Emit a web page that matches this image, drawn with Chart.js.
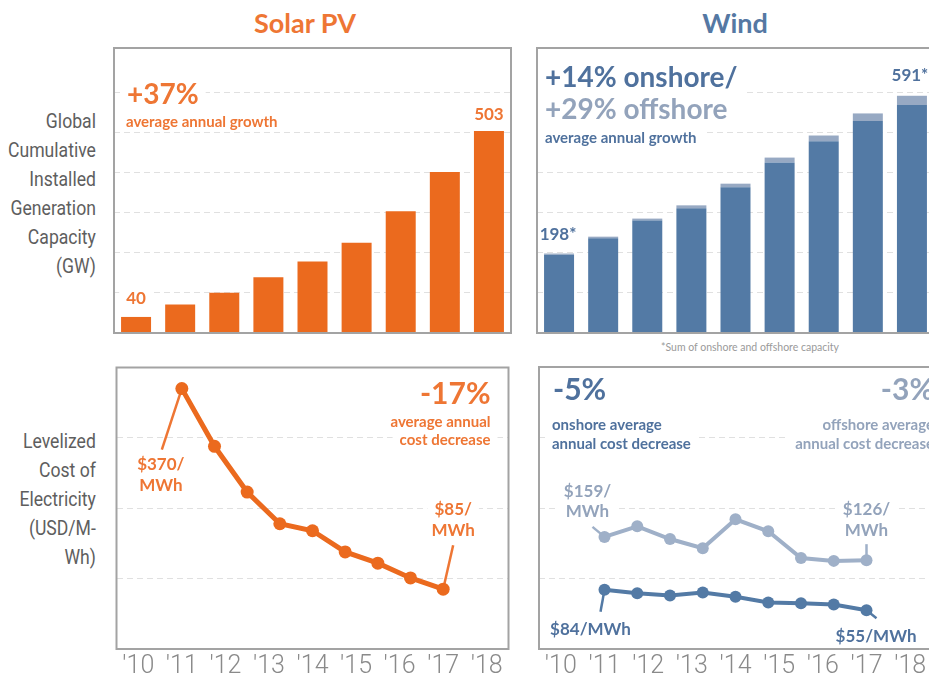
<!DOCTYPE html>
<html><head><meta charset="utf-8">
<script src="https://cdn.jsdelivr.net/npm/chart.js@4.4.1/dist/chart.umd.min.js"></script>
<style>
html,body{margin:0;padding:0;background:#fff;width:929px;height:686px;overflow:hidden;position:relative;}
.box{position:absolute;}
.title{position:absolute;font-family:Lato,'Open Sans',sans-serif;font-weight:bold;font-size:27px;transform:translateX(-50%);top:6px;white-space:nowrap;}
.side{position:absolute;right:833px;text-align:right;font-family:Roboto,'DejaVu Sans Condensed',sans-serif;font-size:20px;line-height:29px;color:#5e5e5e;white-space:nowrap;transform:scaleX(0.88);transform-origin:right top;}
.foot{position:absolute;left:750px;top:341px;transform:translateX(-50%);font-family:Lato,'Open Sans',sans-serif;font-size:10.5px;color:#9a9a9a;white-space:nowrap;}
</style></head>
<body>
<div class="title" style="left:305px;color:#EE7634">Solar PV</div>
<div class="title" style="left:735px;color:#5578A3">Wind</div>
<div class="side" style="top:107px">Global<br>Cumulative<br>Installed<br>Generation<br>Capacity<br>(GW)</div>
<div class="side" style="top:427px">Levelized<br>Cost of<br>Electricity<br>(USD/M-<br>Wh)</div>
<div class="foot">*Sum of onshore and offshore capacity</div>
<script>
// ---- data ----
const years = ["'10","'11","'12","'13","'14","'15","'16","'17","'18"];
const solarCapacity = [40, 71, 100, 139, 178, 225, 303, 401, 503];
const windOnshore = [195, 236, 280, 311, 363, 425, 478, 528, 568];
const windOffshore = [3, 4, 5, 7, 9, 12, 14, 19, 23];
const lcoeX = [1, 1.75, 2.5, 3.25, 4, 4.75, 5.5, 6.25, 7];
const solarLcoe = [370, 288, 223, 178, 168, 138, 122, 101, 85];
const windOffshoreLcoe = [159, 174, 156, 143, 184, 167, 129, 125, 126];
const windOnshoreLcoe = [84, 79, 76, 80, 74, 66, 65, 63, 55];
const capGrid = [100, 200, 300, 400, 500, 600];
const lcoeGrid = [100, 200, 300];

// ---- styles ----
const ORANGE = '#EB6A1E', ORANGE_TXT = '#EE7634';
const BLUE = '#537AA5', BLUE_TXT = '#4F719D';
const LIGHT = '#97A9C3', LIGHT_TXT = '#93A3BB';
const FONT = "Lato, 'Open Sans', sans-serif";

function mk(left, top, w, h) {
  const d = document.createElement('div');
  d.className = 'box';
  d.style.left = left + 'px'; d.style.top = top + 'px';
  d.style.width = w + 'px'; d.style.height = h + 'px';
  const c = document.createElement('canvas');
  d.appendChild(c); document.body.appendChild(d);
  return c;
}

const A = (dx, dy) => c => [c.chartArea.left + dx, c.chartArea.top + dy];
const R = (dx, dy) => c => [c.chartArea.right + dx, c.chartArea.top + dy];
const P = (ds, i, dx, dy) => c => { const e = c.getDatasetMeta(ds).data[i]; return [e.x + dx, e.y + dy]; };
const T = (text, at, size, color, align = 'left', bg = true) => ({text, at, size, color, align, bg});
const L = (from, to, color, width = 2.5) => ({from, to, color, width});

const annot = {
  id: 'annot',
  beforeDatasetsDraw(chart, a, o) {
    const ctx = chart.ctx; ctx.save();
    (o.items || []).forEach(it => {
      if (!it.bg) return;
      const [x, y] = it.at(chart);
      ctx.font = `bold ${it.size}px ${FONT}`;
      const w = ctx.measureText(it.text).width;
      const x0 = it.align === 'right' ? x - w : it.align === 'center' ? x - w / 2 : x;
      ctx.fillStyle = '#fff';
      ctx.fillRect(x0 - 7, y - it.size * 0.65, w + 14, it.size * 1.3);
    });
    (o.lines || []).forEach(l => {
      const [x1, y1] = l.from(chart), [x2, y2] = l.to(chart);
      ctx.strokeStyle = l.color; ctx.lineWidth = l.width;
      ctx.beginPath(); ctx.moveTo(x1, y1); ctx.lineTo(x2, y2); ctx.stroke();
    });
    ctx.restore();
  },
  afterDatasetsDraw(chart, a, o) {
    const ctx = chart.ctx; ctx.save();
    ctx.textBaseline = 'middle';
    (o.items || []).forEach(it => {
      const [x, y] = it.at(chart);
      ctx.font = `bold ${it.size}px ${FONT}`;
      ctx.textAlign = it.align;
      ctx.fillStyle = it.color;
      ctx.fillText(it.text, x, y);
    });
    ctx.restore();
  },
  afterDraw(chart) {
    const ctx = chart.ctx, ca = chart.chartArea;
    ctx.save();
    ctx.strokeStyle = '#a3a3a3'; ctx.lineWidth = 2;
    ctx.strokeRect(ca.left, ca.top, ca.right - ca.left, ca.bottom - ca.top);
    ctx.restore();
  }
};

function yScale(max, grid, stacked) {
  return {
    min: 0, max, stacked: !!stacked,
    afterBuildTicks: s => { s.ticks = grid.map(v => ({value: v})); },
    ticks: {display: false},
    grid: {color: '#e0e0e0', lineWidth: 1, drawTicks: false},
    border: {display: false, dash: [6, 4]}
  };
}
function xLine() {
  return {
    type: 'linear', min: -0.5, max: 8.5,
    afterBuildTicks: s => { s.ticks = years.map((_, i) => ({value: i})); },
    ticks: {
      callback: v => years[v], autoSkip: false, maxRotation: 0, padding: 3,
      color: '#8a8a8a', font: {family: "Roboto, 'DejaVu Sans Condensed', sans-serif", size: 25, weight: '300'}
    },
    grid: {display: false, drawTicks: false},
    border: {display: false}
  };
}
const base = {
  responsive: true, maintainAspectRatio: false, animation: false, devicePixelRatio: 1,
  layout: {padding: {left: 4, right: 4, top: 4, bottom: 4}},
};
const noUI = {legend: {display: false}, tooltip: {enabled: false}};

// Solar capacity
new Chart(mk(110, 44, 405, 293), {
  type: 'bar',
  data: {labels: years, datasets: [{data: solarCapacity, backgroundColor: ORANGE, barPercentage: 1, categoryPercentage: 0.68}]},
  options: {...base,
    scales: {x: {display: false, offset: true}, y: yScale(710, capGrid)},
    plugins: {...noUI, annot: {items: [
      T('+37%', A(13, 47), 28, ORANGE_TXT),
      T('average annual growth', A(12, 74), 15, ORANGE_TXT),
      T('503', P(0, 8, 0, -17), 17, ORANGE_TXT, 'center'),
      T('40', P(0, 0, 0, -18), 17, ORANGE_TXT, 'center')
    ]}}
  },
  plugins: [annot]
});

// Wind capacity
new Chart(mk(533, 44, 405, 293), {
  type: 'bar',
  data: {labels: years, datasets: [
    {data: windOnshore, backgroundColor: BLUE, barPercentage: 1, categoryPercentage: 0.68},
    {data: windOffshore, backgroundColor: LIGHT, barPercentage: 1, categoryPercentage: 0.68}
  ]},
  options: {...base,
    scales: {x: {display: false, offset: true, stacked: true}, y: yScale(710, capGrid, true)},
    plugins: {...noUI, annot: {items: [
      T('+14% onshore/', A(8, 30), 28, BLUE_TXT),
      T('+29% offshore', A(8, 62), 28, LIGHT_TXT),
      T('average annual growth', A(8, 90), 15, BLUE_TXT),
      T('198*', P(1, 0, -1, -19), 17, BLUE_TXT, 'center'),
      T('591*', P(1, 8, -2, -20), 17, BLUE_TXT, 'center')
    ]}}
  },
  plugins: [annot]
});

// Solar LCOE
new Chart(mk(110, 361, 405, 324), {
  type: 'line',
  data: {datasets: [{
    data: lcoeX.map((x, i) => ({x, y: solarLcoe[i]})),
    borderColor: ORANGE, backgroundColor: ORANGE, borderWidth: 5,
    pointRadius: 6.5, pointBorderWidth: 0, pointBackgroundColor: ORANGE, tension: 0
  }]},
  options: {...base, layout: {padding: {left: 4, right: 4, top: 4, bottom: 0}},
    scales: {x: xLine(), y: yScale(400, lcoeGrid)},
    plugins: {...noUI, annot: {
      items: [
        T('-17%', R(-18, 27), 30, ORANGE_TXT, 'right'),
        T('average annual', R(-18, 55), 15, ORANGE_TXT, 'right'),
        T('cost decrease', R(-18, 73), 15, ORANGE_TXT, 'right'),
        T('$370/', P(0, 0, -21, 76), 17, ORANGE_TXT, 'center'),
        T('MWh', P(0, 0, -21, 97), 17, ORANGE_TXT, 'center'),
        T('$85/', P(0, 8, 10, -80), 17, ORANGE_TXT, 'center'),
        T('MWh', P(0, 8, 10, -59), 17, ORANGE_TXT, 'center')
      ],
      lines: [
        L(P(0, 0, 0, 0), P(0, 0, -20, 61), ORANGE_TXT),
        L(P(0, 8, 0, 0), P(0, 8, 10, -44), ORANGE_TXT)
      ]
    }}
  },
  plugins: [annot]
});

// Wind LCOE
new Chart(mk(533, 361, 405, 324), {
  type: 'line',
  data: {datasets: [
    {data: lcoeX.map((x, i) => ({x, y: windOffshoreLcoe[i]})),
     borderColor: '#9FB0C8', backgroundColor: '#9FB0C8', borderWidth: 4,
     pointRadius: 6, pointBorderWidth: 0, pointBackgroundColor: '#9FB0C8', tension: 0},
    {data: lcoeX.map((x, i) => ({x, y: windOnshoreLcoe[i]})),
     borderColor: BLUE, backgroundColor: BLUE, borderWidth: 4,
     pointRadius: 6, pointBorderWidth: 0, pointBackgroundColor: BLUE, tension: 0}
  ]},
  options: {...base, layout: {padding: {left: 4, right: 4, top: 4, bottom: 0}},
    scales: {x: xLine(), y: yScale(400, lcoeGrid)},
    plugins: {...noUI, annot: {
      items: [
        T('-5%', A(14, 23), 30, BLUE_TXT),
        T('onshore average', A(13, 58), 15, BLUE_TXT),
        T('annual cost decrease', A(13, 77), 15, BLUE_TXT),
        T('-3%', R(2, 23), 30, LIGHT_TXT, 'right'),
        T('offshore average', R(2, 58), 15, LIGHT_TXT, 'right'),
        T('annual cost decrease', R(2, 77), 15, LIGHT_TXT, 'right'),
        T('$159/', P(0, 0, -17, -45), 17, LIGHT_TXT, 'center'),
        T('MWh', P(0, 0, -17, -25), 17, LIGHT_TXT, 'center'),
        T('$126/', P(0, 8, 0, -51), 17, LIGHT_TXT, 'center'),
        T('MWh', P(0, 8, 0, -30), 17, LIGHT_TXT, 'center'),
        T('$84/MWh', P(1, 0, -14, 40), 17, BLUE_TXT, 'center'),
        T('$55/MWh', P(1, 8, 50, 26), 17, BLUE_TXT, 'right')
      ],
      lines: [
        L(P(0, 0, 0, 0), P(0, 0, -12, -10), '#9FB0C8'),
        L(P(0, 8, 0, 0), P(0, 8, 0, -16), '#9FB0C8'),
        L(P(1, 0, 0, 0), P(1, 0, -4, 22), BLUE),
        L(P(1, 8, 0, 0), P(1, 8, 10, 8), BLUE)
      ]
    }}
  },
  plugins: [annot]
});
</script>
</body></html>
